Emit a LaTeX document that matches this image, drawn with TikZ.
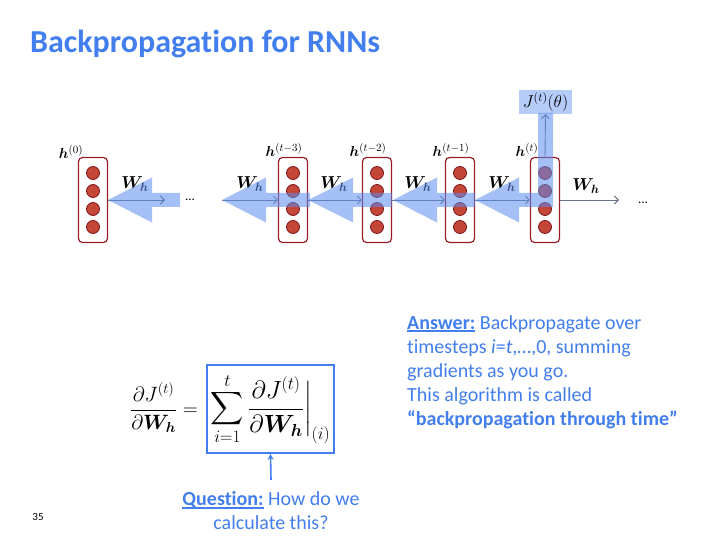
\documentclass[tikz,border=0pt]{standalone}
\usepackage{amsmath,amssymb,bm}
\usepackage{fontspec}
\setmainfont{Carlito}[Ligatures=NoCommon]
\usetikzlibrary{arrows.meta,positioning,calc}
\definecolor{slideBlue}{RGB}{66,126,238}
\definecolor{flowBlue}{RGB}{90,140,240}
\definecolor{cellRed}{RGB}{155,30,38}
\definecolor{unitRed}{RGB}{195,70,55}
\definecolor{fwdGray}{RGB}{105,115,135}

% underlined bold lead word
\newsavebox{\ulBox}
\newcommand{\ulText}[1]{\sbox{\ulBox}{\textbf{#1}}%
  \rlap{\rule[-2.6pt]{\wd\ulBox}{1.3pt}}\usebox{\ulBox}}

% backward block arrow: tip x, head base x, tail x (all at y=200)
\newcommand{\backArrow}[3]{%
  \fill[back] (#1,200) -- (#2,177.5) -- (#2,193) -- (#3,193) -- (#3,207)
    -- (#2,207) -- (#2,222.5) -- cycle;}

\tikzset{
  hbox/.style={draw=cellRed, line width=1.2pt, rounded corners=4pt,
    minimum width=29pt, minimum height=85pt, inner sep=0pt},
  unit/.style={circle, draw=cellRed!80!black, fill=unitRed, line width=0.8pt,
    minimum size=13pt, inner sep=0pt},
  fwd/.style={-{Straight Barb[length=4pt,width=8pt]}, fwdGray, line width=0.9pt},
  back/.style={fill=flowBlue, fill opacity=0.55},
  wlab/.style={font=\fontsize{17}{17}\selectfont},
  hlab/.style={font=\fontsize{15}{15}\selectfont},
}

\begin{document}
\begin{tikzpicture}[x=1pt, y=-1pt]
  \useasboundingbox (0,0) rectangle (720,540);

  % title
  \node[anchor=base west, inner sep=0pt, text=slideBlue,
    font=\fontsize{32}{32}\selectfont\bfseries] (title) at (30,53)
    {Backpropagation for RNNs};

  % hidden states
  \node[hbox] (h0) at (93,200) {};
  \node[hbox] (h3) at (293,200) {};
  \node[hbox] (h2) at (377,200) {};
  \node[hbox] (h1) at (460,200) {};
  \node[hbox] (ht) at (545,200) {};
  \foreach \b in {h0,h3,h2,h1,ht}
    \foreach \k/\dy in {1/-27,2/-9,3/9,4/27}
      \node[unit] (\b-\k) at ($(\b)+(0,\dy)$) {};

  % state labels
  \node[hlab] (lh0) at (71,152) {$\bm{h}^{(0)}$};
  \node[hlab] (lh3) at (284,150) {$\bm{h}^{(t-3)}$};
  \node[hlab] (lh2) at (368,150) {$\bm{h}^{(t-2)}$};
  \node[hlab] (lh1) at (451,150) {$\bm{h}^{(t-1)}$};
  \node[hlab] (lht) at (527,150) {$\bm{h}^{(t)}$};

  % loss
  \node[fill=flowBlue!45, minimum width=53pt, minimum height=24pt, inner sep=0pt,
    font=\fontsize{17}{17}\selectfont] (J) at (545.5,102) {$J^{(t)}(\theta)$};

  % forward arrows
  \coordinate (e0) at (165,200);
  \coordinate (s3) at (222,200);
  \coordinate (e5) at (619,200);
  \node[font=\fontsize{13}{13}\selectfont] (dotsA) at (190,200) {...};
  \node[font=\fontsize{13}{13}\selectfont] (dotsB) at (643,203) {...};
  \draw[fwd] (h0.east) -- (e0);
  \draw[fwd] (s3) -- (h3.west);
  \draw[fwd] (h3.east) -- (h2.west);
  \draw[fwd] (h2.east) -- (h1.west);
  \draw[fwd] (h1.east) -- (ht.west);
  \draw[fwd] (ht.east) -- (e5);
  \draw[fwd] (ht.north) -- (J.south);

  % weight labels
  \foreach \x/\y [count=\i] in {135/184,250/184,334/184,418/184,502/184,586/186}
    \node[wlab] (w\i) at (\x,\y) {$\bm{W}_{\bm{h}}$};

  % backward flow
  \backArrow{108}{152}{180}
  \backArrow{222}{266}{310}
  \backArrow{308}{353}{392}
  \backArrow{393}{437}{475}
  \fill[back] (475,200) -- (519,177.5) -- (519,193) -- (538,193) -- (538,113)
    -- (553,113) -- (553,207) -- (519,207) -- (519,222.5) -- cycle;

  % gradient formula
  \node[font=\fontsize{22}{26}\selectfont, inner sep=0pt] (lhs) at (164,408)
    {$\dfrac{\partial J^{(t)}}{\partial \bm{W_h}} =$};
  \node[draw=slideBlue, line width=1.8pt, minimum width=127pt, minimum height=88pt,
    inner xsep=2pt, inner ysep=0pt, font=\fontsize{23}{27}\selectfont] (sumbox) at (270.5,409)
    {$\displaystyle\sum_{i=1}^{t} \frac{\partial J^{(t)}}{\partial \bm{W_h}}\bigg|_{(i)}$};

  % question
  \node[align=center, text=slideBlue, font=\fontsize{20}{24}\selectfont] (question)
    at (271,511) {\ulText{Question:} How do we\\calculate this?};
  \coordinate (qa) at (271,480);
  \draw[-{Stealth[length=6pt,width=6pt]}, slideBlue, line width=1.6pt]
    (qa) -- (sumbox.south);

  % answer
  \node[align=left, anchor=north west, text=slideBlue, inner sep=0pt,
    font=\fontsize{20}{24}\selectfont] (answer) at (407,315)
    {\ulText{Answer:} Backpropagate over\\
     timesteps \textit{i}=\textit{t},…,0, summing\\
     gradients as you go.\\
     This algorithm is called\\
     \textbf{“backpropagation through time”}};

  % page number
  \node[font=\fontsize{11}{11}\selectfont] (page) at (38,517) {35};
\end{tikzpicture}
\end{document}
